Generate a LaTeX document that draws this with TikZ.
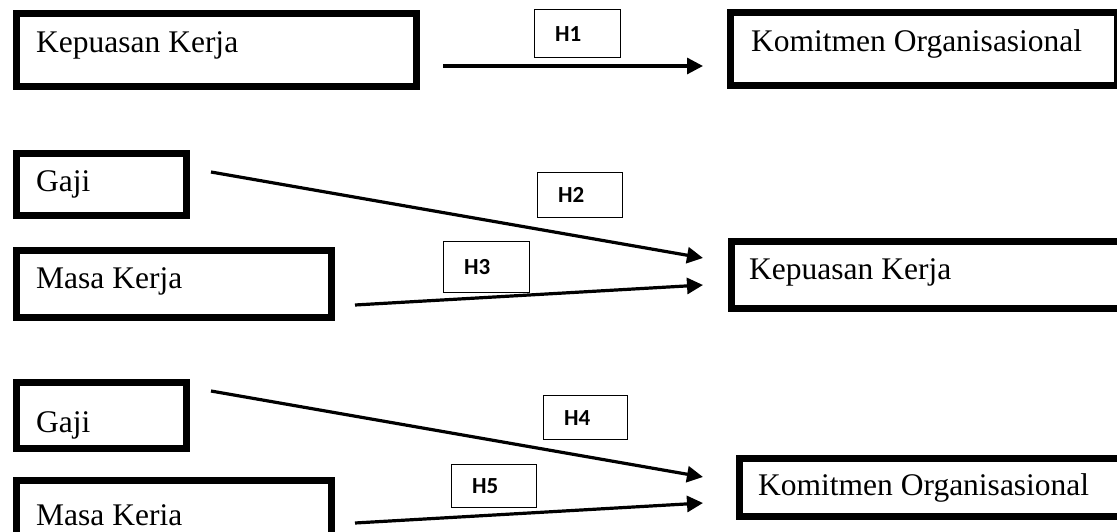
\documentclass[tikz,border=0pt]{standalone}
\usepackage{fontspec}
\setmainfont{Liberation Serif}
\newfontfamily\hfont{Carlito}
\usetikzlibrary{arrows.meta}
\begin{document}
\begin{tikzpicture}[x=1pt,y=-1pt,
  bigbox/.style={draw=black, line width=7pt, anchor=north west, inner sep=0pt, fill=white},
  hbox/.style={draw=black, line width=1.4pt, anchor=north west, inner sep=0pt, fill=white},
  txt/.style={anchor=base west, inner sep=0pt, font=\fontsize{31.5}{36}\selectfont},
  htxt/.style={anchor=west, inner sep=0pt, font=\hfont\bfseries\fontsize{23}{27}\selectfont},
  arr/.style={line width=3.2pt, -{Triangle[length=16pt,width=16pt]}}
]
\useasboundingbox (0,0) rectangle (1117,532);
\fill[white] (0,0) rectangle (1117,532);
\begin{scope}
\clip (0,0) rectangle (1117,532);
% row 1
\node[bigbox, minimum width=400pt, minimum height=73pt] (kk1) at (12.5,10.5) {};
\node[txt] (kk1t) at (36,53) {Kepuasan Kerja};
\node[bigbox, minimum width=387pt, minimum height=73pt] (ko1) at (726.5,9.5) {};
\node[txt] (ko1t) at (751,52) {Komitmen Organisasional};
\node[hbox, minimum width=86pt, minimum height=48pt] (h1) at (534,9) {};
\node[htxt] (h1t) at ([xshift=21pt]h1.west) {H1};
\coordinate (a1s) at (443,66);
\coordinate (a1e) at (703,66);
\draw[arr] (a1s) -- (a1e);
% row 2
\node[bigbox, minimum width=170pt, minimum height=61pt] (g1) at (12.5,150.5) {};
\node[txt] (g1t) at (36,192) {Gaji};
\node[bigbox, minimum width=315pt, minimum height=67pt] (m1) at (12.5,246.5) {};
\node[txt] (m1t) at (36,288) {Masa Kerja};
\node[bigbox, minimum width=404pt, minimum height=67pt] (kk2) at (727.5,237.5) {};
\node[txt] (kk2t) at (749,279) {Kepuasan Kerja};
\node[hbox, minimum width=85pt, minimum height=45pt] (h2) at (537,172) {};
\node[htxt] (h2t) at ([xshift=21pt]h2.west) {H2};
\node[hbox, minimum width=86pt, minimum height=51pt] (h3) at (443,241) {};
\node[htxt] (h3t) at ([xshift=21pt]h3.west) {H3};
\coordinate (a2s) at (211,172);
\coordinate (a2e) at (703,258);
\coordinate (a3s) at (355,305);
\coordinate (a3e) at (703,285);
\draw[arr] (a2s) -- (a2e);
\draw[arr] (a3s) -- (a3e);
% row 3
\node[bigbox, minimum width=170pt, minimum height=66pt] (g2) at (12.5,378.5) {};
\node[txt] (g2t) at (36,432) {Gaji};
\node[bigbox, minimum width=315pt, minimum height=68pt] (m2) at (12.5,476.5) {};
\node[txt] (m2t) at (36,525) {Masa Keria};
\node[bigbox, minimum width=396pt, minimum height=58pt] (ko2) at (735.5,454.5) {};
\node[txt] (ko2t) at (758,495) {Komitmen Organisasional};
\node[hbox, minimum width=84pt, minimum height=44pt] (h4) at (543,395) {};
\node[htxt] (h4t) at ([xshift=21pt]h4.west) {H4};
\node[hbox, minimum width=85pt, minimum height=43pt] (h5) at (451,464) {};
\node[htxt] (h5t) at ([xshift=21pt]h5.west) {H5};
\coordinate (a4s) at (211,391);
\coordinate (a4e) at (703,477);
\coordinate (a5s) at (355,523);
\coordinate (a5e) at (703,503);
\draw[arr] (a4s) -- (a4e);
\draw[arr] (a5s) -- (a5e);
\end{scope}
\end{tikzpicture}
\end{document}
